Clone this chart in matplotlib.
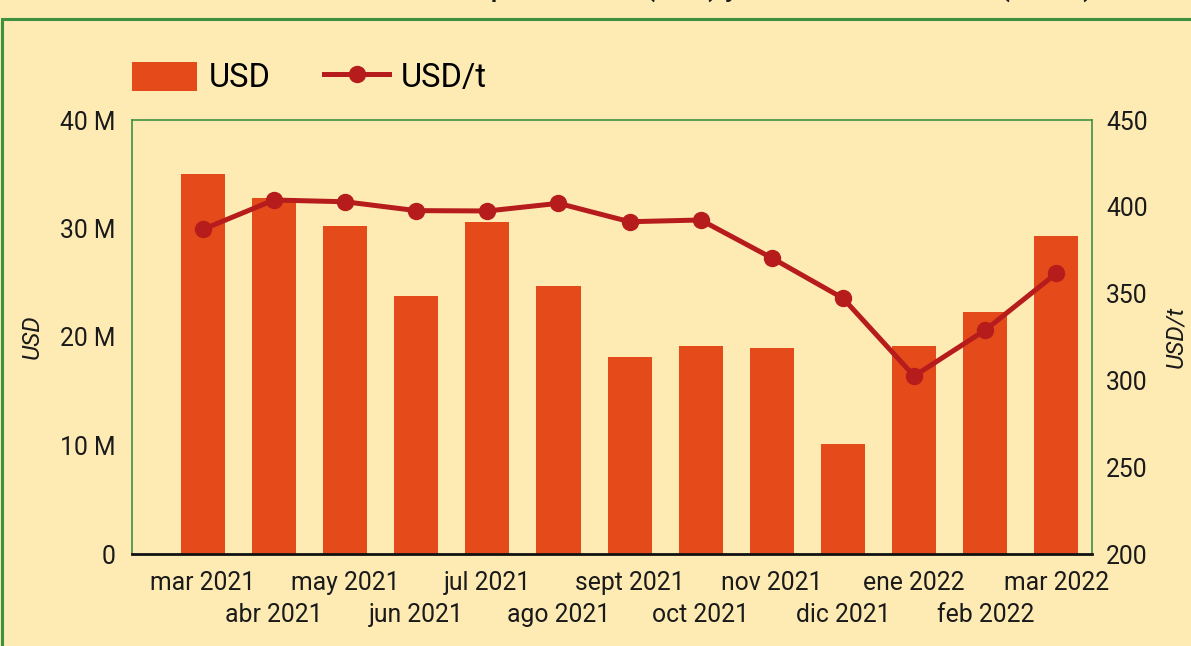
import matplotlib
matplotlib.use("Agg")
import matplotlib.pyplot as plt
from matplotlib.patches import Rectangle
from matplotlib.lines import Line2D
from matplotlib.patches import Patch
import numpy as np

plt.rcParams["font.family"] = ["Roboto", "DejaVu Sans"]

# ---- data ----
months = ["mar 2021", "abr 2021", "may 2021", "jun 2021", "jul 2021", "ago 2021",
          "sept 2021", "oct 2021", "nov 2021", "dic 2021", "ene 2022", "feb 2022",
          "mar 2022"]
usd_millions = [35.0, 32.8, 30.2, 23.8, 30.6, 24.7, 18.2, 19.2, 19.0, 10.1, 19.2, 22.3, 29.3]
usd_per_t = [387.0, 403.9, 402.9, 397.8, 397.6, 402.0, 391.4, 392.4, 370.5, 347.3,
             302.5, 329.0, 361.7]
left_ticks = [0, 10, 20, 30, 40]
left_ticklabels = ["0", "10 M", "20 M", "30 M", "40 M"]
right_ticks = [200, 250, 300, 350, 400, 450]

BG = "#FEEBB4"
GREEN = "#3D9140"
BAR = "#E44A1A"
LINE = "#B71C1C"
TXT = "#1A1A1A"
TICK_FS = 17.8

fig = plt.figure(figsize=(11.91, 6.46), dpi=100, facecolor=BG)
ax = fig.add_axes([131.7 / 1191, 92 / 646, 960.3 / 1191, 434 / 646])
ax.set_facecolor(BG)

x = np.arange(len(months))
ax.bar(x, usd_millions, width=0.62, color=BAR, zorder=2)
ax.set_xlim(-1.0, 12.5)
ax.set_ylim(0, 40)
ax.set_yticks(left_ticks)
ax.set_yticklabels(left_ticklabels)

# alternating two-row month labels
ax.set_xticks(x[::2])
ax.set_xticklabels(months[::2])
ax.set_xticks(x[1::2], minor=True)
ax.set_xticklabels(months[1::2], minor=True)
ax.tick_params(axis="x", which="major", length=0, pad=12.5, labelsize=TICK_FS, colors=TXT)
ax.tick_params(axis="x", which="minor", length=0, pad=35, labelsize=TICK_FS, colors=TXT)
ax.tick_params(axis="y", length=0, pad=11.5, labelsize=TICK_FS, colors=TXT)
ax.set_ylabel("USD", fontsize=17.5, style="italic", color=TXT, labelpad=12)

for side in ["top", "left", "right"]:
    ax.spines[side].set_color(GREEN)
    ax.spines[side].set_linewidth(1.2)
ax.spines["bottom"].set_color("#111111")
ax.spines["bottom"].set_linewidth(2.0)

ax2 = ax.twinx()
ax2.plot(x, usd_per_t, "-o", color=LINE, linewidth=3.6, markersize=11.5, zorder=3)
ax2.set_ylim(200, 450)
ax2.set_yticks(right_ticks)
ax2.tick_params(axis="y", length=0, pad=10, labelsize=TICK_FS, colors=TXT)
ax2.set_ylabel("USD/t", fontsize=17.5, style="italic", color=TXT, labelpad=12)
for side in ["top", "left", "right", "bottom"]:
    ax2.spines[side].set_visible(False)

handles = [Patch(facecolor=BAR, edgecolor="none"),
           Line2D([], [], color=LINE, linewidth=3.6, marker="o", markersize=11.5)]
ax.legend(handles, ["USD", "USD/t"], loc="center left", bbox_to_anchor=(0.0, 1.097),
          ncol=2, frameon=False, fontsize=23.5, handlelength=2.0, handleheight=1.0,
          handletextpad=0.35, columnspacing=1.65, borderpad=0, borderaxespad=0)

# title sits above the visible canvas, only its descenders show (as in the reference)
fig.text(1093 / 1191, 1 + 4 / 646,
         "Monto de las importaciones (USD) y valor unitario medio (USD/t)",
         ha="right", va="baseline", fontsize=20, fontweight="medium", color=TXT)

# outer green frame (right/bottom edges run off the canvas)
fig.patches.append(Rectangle((1.5 / 1191, -0.1), 1.2, 1.1 - 18.5 / 646,
                             transform=fig.transFigure, fill=False,
                             edgecolor=GREEN, linewidth=2.2))

fig.savefig("out.png", dpi=100, facecolor=BG)
